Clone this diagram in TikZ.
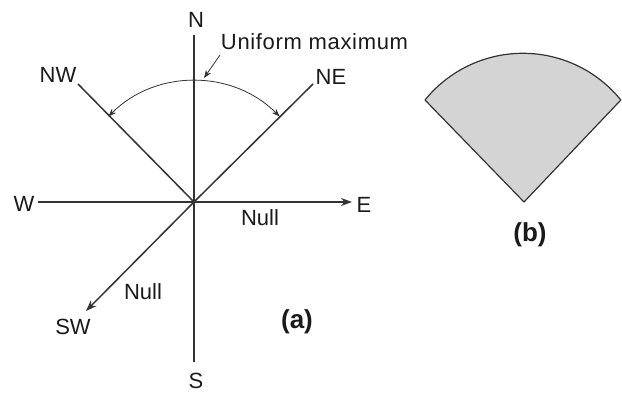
\documentclass[tikz,border=0pt]{standalone}
\usepackage{fontspec}
\setmainfont{Liberation Sans}
\usetikzlibrary{arrows.meta}
\definecolor{ink}{HTML}{333333}
\definecolor{txt}{HTML}{1A1A1A}
\definecolor{sector}{HTML}{D4D4D4}
\begin{document}
\begin{tikzpicture}[x=1pt,y=1pt,
  spoke/.style={draw=ink,line width=1.5pt},
  tip/.style={-{Stealth[length=11pt,width=8pt]}},
  lbl/.style={inner sep=0pt,text=txt,font=\fontsize{22}{26}\selectfont},
  bold/.style={inner sep=0pt,text=txt,font=\fontsize{26}{30}\selectfont\bfseries}]
\useasboundingbox (0,0) rectangle (622,393);
% panel (a)
\coordinate (O) at (194,191);
\coordinate (Nend) at (194,358);
\coordinate (Send) at (194,31);
\coordinate (Wend) at (38,191);
\coordinate (Etip) at (352,191);
\coordinate (NWend) at (78,309);
\coordinate (NEend) at (313,309);
\coordinate (SWtip) at (86,82);
\draw[spoke] (O) -- (Nend);
\draw[spoke] (O) -- (Send);
\draw[spoke] (O) -- (Wend);
\draw[spoke,tip] (O) -- (Etip);
\draw[spoke] (O) -- (NWend);
\draw[spoke] (O) -- (NEend);
\draw[spoke,tip] (O) -- (SWtip);
\node[lbl] (N) at (196,373) {N};
\node[lbl] (S) at (196,12) {S};
\node[lbl] (W) at (24,189) {W};
\node[lbl] (E) at (364,188) {E};
\node[lbl] (NW) at (58,318) {NW};
\node[lbl] (NE) at (331,316) {NE};
\node[lbl] (SW) at (73,66) {SW};
\node[lbl] (null1) at (260,175) {Null};
\node[lbl] (null2) at (143,101) {Null};
\node[bold] (a) at (297,71) {(a)};
\node[lbl] (um) at (314.5,351) {\addfontfeature{LetterSpace=3}Uniform maximum};
\coordinate (umfrom) at (220,338);
\coordinate (umto) at (204,315);
\draw[draw=ink,line width=0.8pt,-{Stealth[length=8pt,width=6pt]}] (umfrom) -- (umto);
\draw[draw=ink,line width=0.8pt,{Stealth[length=8pt,width=6pt]}-{Stealth[length=8pt,width=6pt]}]
  ([shift={(135:121)}]O) arc (135:45:121);
% panel (b)
\coordinate (apex) at (524,191);
\coordinate (left) at (425,293);
\draw[draw=ink,line width=1.2pt,fill=sector,line join=round] (apex) -- (left) arc (141:39:126) -- cycle;
\node[bold] (b) at (530,158) {(b)};
\end{tikzpicture}
\end{document}
